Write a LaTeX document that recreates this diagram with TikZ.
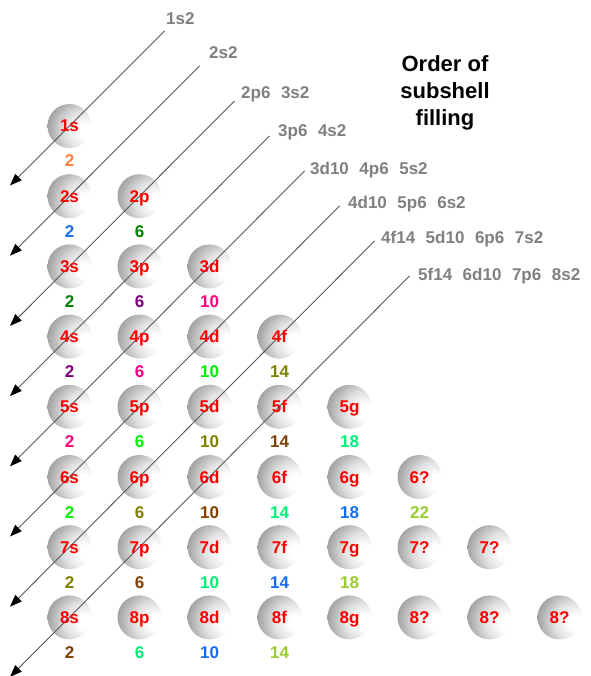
\documentclass[tikz,border=0pt]{standalone}
\usepackage{fontspec}
\setmainfont{Liberation Sans}
\usetikzlibrary{arrows.meta,calc}

% colours of the electron counts, one per diagonal (n + l)
\definecolor{dcol1}{RGB}{255,128,64}
\definecolor{dcol2}{RGB}{20,110,240}
\definecolor{dcol3}{RGB}{0,128,0}
\definecolor{dcol4}{RGB}{128,0,128}
\definecolor{dcol5}{RGB}{255,0,128}
\definecolor{dcol6}{RGB}{0,240,0}
\definecolor{dcol7}{RGB}{128,128,0}
\definecolor{dcol8}{RGB}{128,64,0}
\definecolor{dcol9}{RGB}{0,240,120}
\definecolor{dcol10}{RGB}{20,110,240}
\definecolor{dcol11}{RGB}{153,204,51}
\definecolor{sphlight}{gray}{0.88}
\definecolor{sphmid}{gray}{0.6}
\definecolor{sphdark}{gray}{0.33}
\definecolor{linegray}{gray}{0.35}
\definecolor{labgray}{gray}{0.5}

% shaded ball, lit from the right
\pgfdeclareradialshading{sphereshade}{\pgfpoint{20bp}{-6bp}}{%
  color(0bp)=(white); color(8bp)=(white); color(22bp)=(sphlight);
  color(40bp)=(sphmid); color(62bp)=(sphdark); color(100bp)=(sphdark)}

\newcommand\sublet[1]{\ifcase#1\or s\or p\or d\or f\or g\else ?\fi}
\newcommand\gp{\hspace{0.62em}}

\tikzset{
  ball/.style={circle, minimum size=44pt, inner sep=0pt, shading=sphereshade},
  sublabel/.style={text=red, font=\fontsize{17}{17}\selectfont\bfseries,
    inner sep=0pt, text height=12pt, text depth=0pt},
  countlabel/.style={font=\fontsize{17}{17}\selectfont\bfseries,
    inner sep=0pt, text height=12pt, text depth=0pt},
  filllabel/.style={text=labgray, font=\fontsize{17}{17}\selectfont\bfseries,
    inner sep=0pt, text height=12pt, text depth=0pt, anchor=west},
  fillarrow/.style={draw=linegray, line width=0.9pt,
    -{Triangle[length=12pt,width=9pt,color=black]}},
}

\begin{document}
\begin{tikzpicture}[x=1pt,y=-1pt]
\fill[white] (0,0) rectangle (590,676);
\useasboundingbox (0,0) rectangle (590,676);

% the balls, row n holds subshells l = 0 .. n-1
\foreach \n in {1,...,8}{
  \foreach \j in {1,...,\n}{
    \node[ball] (ball-\n-\j) at ({69.5+70*(\j-1)},{126+70.2*(\n-1)}) {};
  }
}

% diagonal filling arrows
\foreach \k in {1,...,8}{
  \coordinate (top-\k) at ({164.5+35*(\k-1)},{31+35*(\k-1)});
  \coordinate (tip-\k) at (10,{185.5+70.2*(\k-1)});
  \draw[fillarrow] (top-\k) -- (tip-\k);
}

% subshell names and electron counts
\foreach \n in {1,...,8}{
  \foreach \j in {1,...,\n}{
    \pgfmathtruncatemacro\dg{\n+\j-1}
    \pgfmathtruncatemacro\elec{4*\j-2}
    \pgfmathtruncatemacro\maxj{\n<7 ? \n : 12-\n}
    \node[sublabel] (lab-\n-\j) at (ball-\n-\j) {\n\sublet{\j}};
    \ifnum\j>\maxj\relax\else
      \node[countlabel, text=dcol\dg] (cnt-\n-\j) at ($(ball-\n-\j)+(0,35)$) {\elec};
    \fi
  }
}

% filling sequence along each arrow
\node[filllabel] (seq-1) at (166,19) {1s2};
\node[filllabel] (seq-2) at (209,53) {2s2};
\node[filllabel] (seq-3) at (241,93) {2p6\gp 3s2};
\node[filllabel] (seq-4) at (278,131) {3p6\gp 4s2};
\node[filllabel] (seq-5) at (310,169) {3d10\gp 4p6\gp 5s2};
\node[filllabel] (seq-6) at (348,202) {4d10\gp 5p6\gp 6s2};
\node[filllabel] (seq-7) at (381,237) {4f14\gp 5d10\gp 6p6\gp 7s2};
\node[filllabel] (seq-8) at (418,274) {5f14\gp 6d10\gp 7p6\gp 8s2};

% heading
\node[align=center, font=\fontsize{22}{27}\selectfont\bfseries, inner sep=0pt]
  (title) at (445,93) {Order of\\subshell\\filling};
\end{tikzpicture}
\end{document}
